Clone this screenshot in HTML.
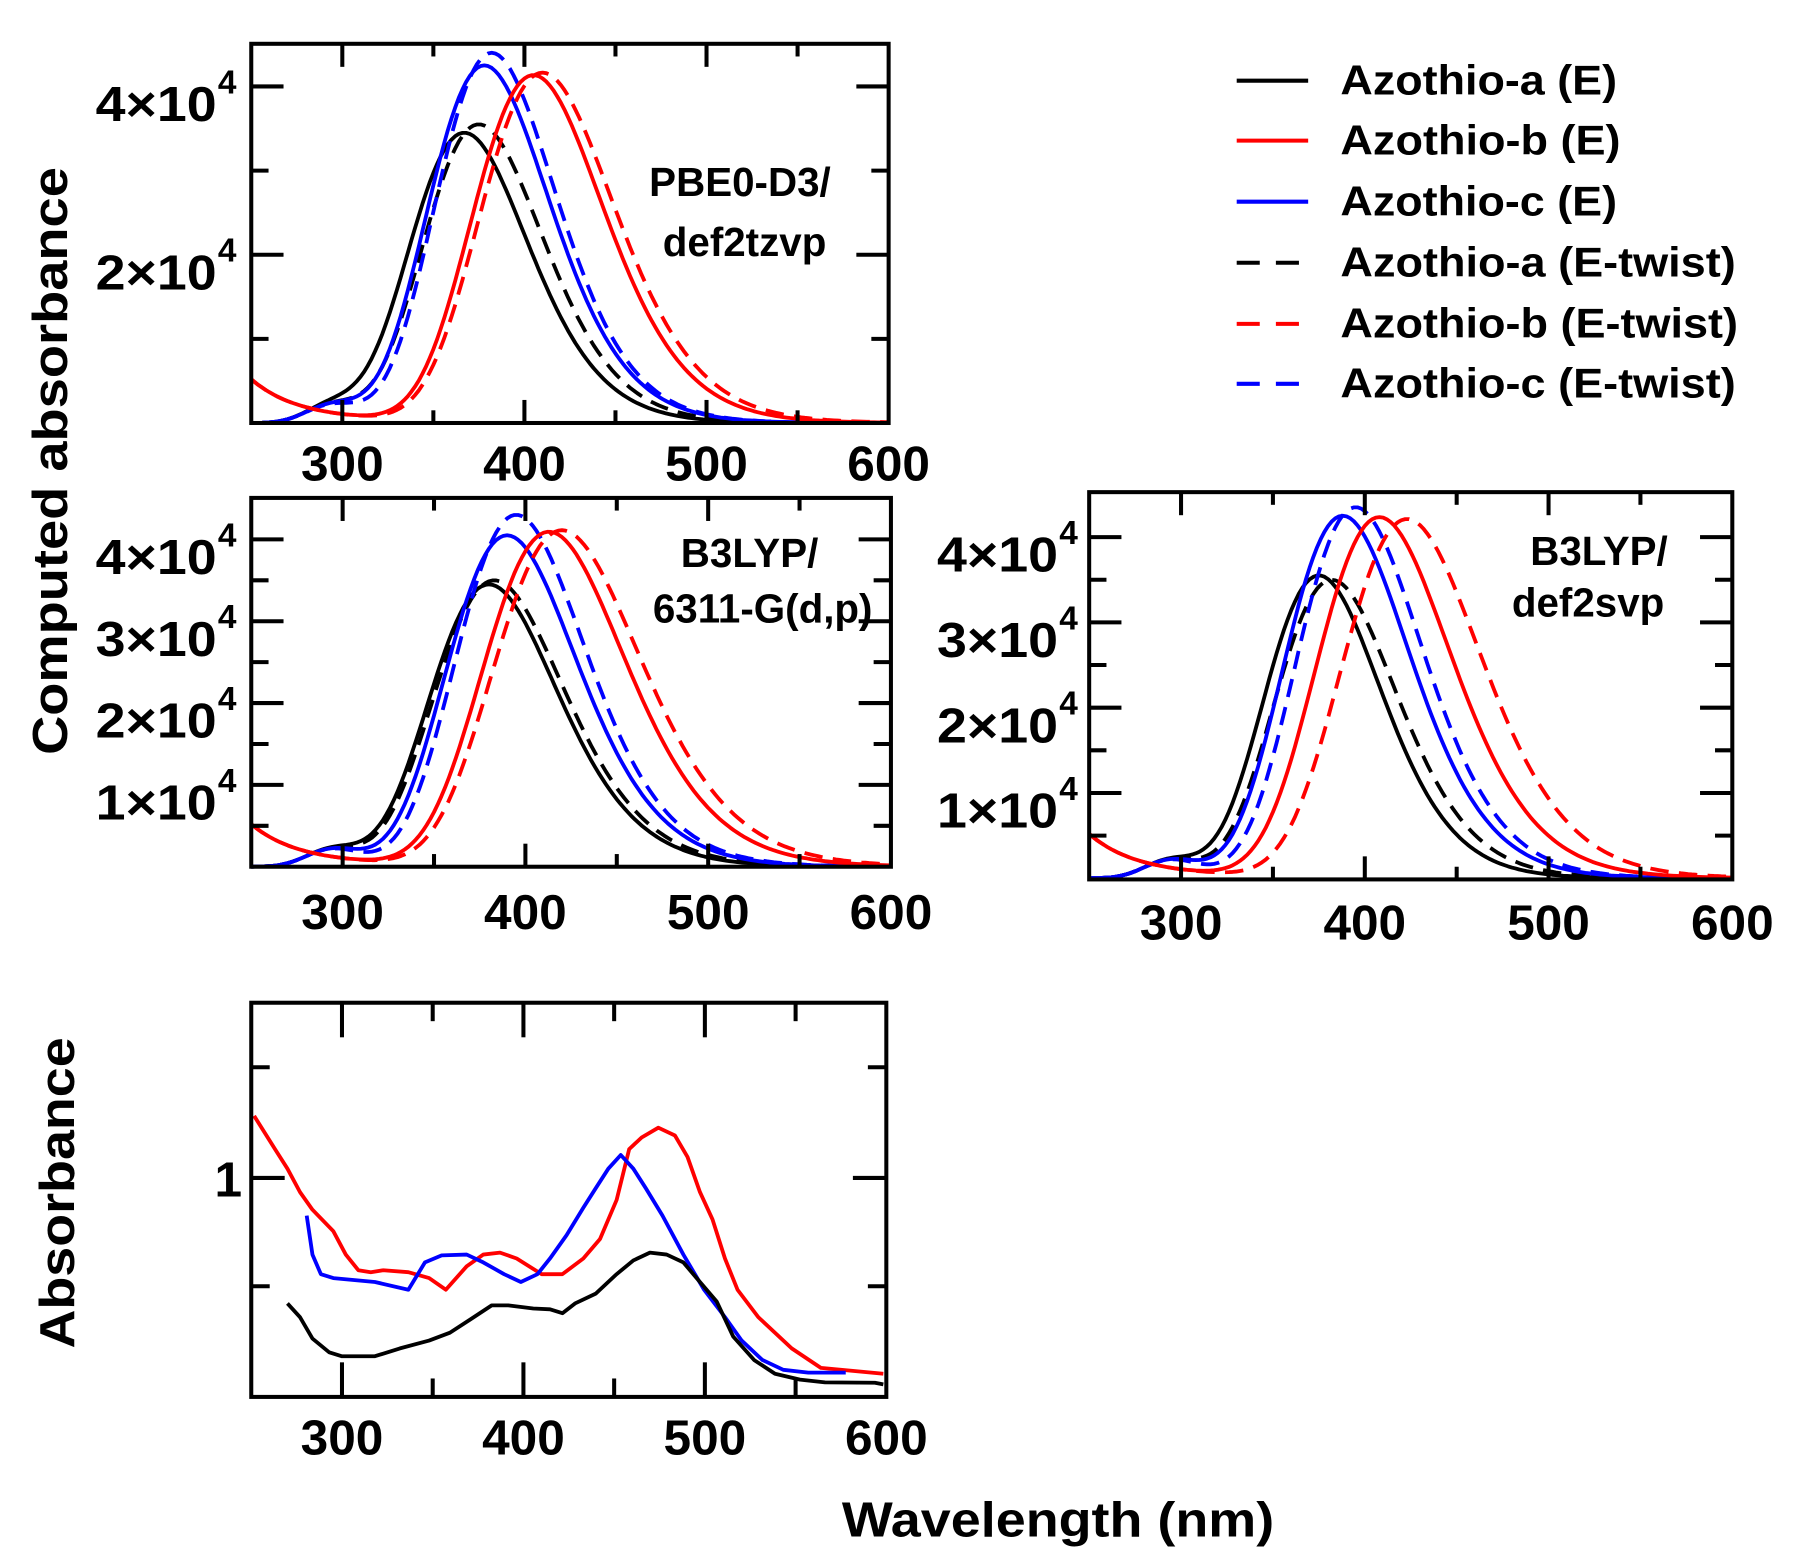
<!DOCTYPE html>
<html><head><meta charset="utf-8">
<style>
html,body{margin:0;padding:0;background:#fff;}
svg{display:block;}
text{font-family:"Liberation Sans",Arial,sans-serif;font-weight:bold;fill:#000;}
</style></head>
<body>
<svg id="s" width="1798" height="1560" viewBox="0 0 1560 1353.5" preserveAspectRatio="none" xmlns="http://www.w3.org/2000/svg">
<rect width="1560" height="1353.5" fill="#fff"/>
<g id="curves" fill="none" stroke-width="3.3" stroke-linejoin="round"></g>
<g id="frames" fill="none" stroke="#000" stroke-width="3.5"></g>
<g id="labels" font-size="43"></g>

<text x="0" y="0" font-size="43" transform="translate(58,400) rotate(-90)" text-anchor="middle" textLength="510" lengthAdjust="spacingAndGlyphs">Computed absorbance</text>
<text x="0" y="0" font-size="43" transform="translate(64,1035) rotate(-90)" text-anchor="middle" textLength="270" lengthAdjust="spacingAndGlyphs">Absorbance</text>
<text x="918" y="1333" font-size="43" text-anchor="middle" textLength="375" lengthAdjust="spacingAndGlyphs">Wavelength (nm)</text>

<g font-size="35">
<text x="642" y="170" text-anchor="middle">PBE0-D3/</text>
<text x="646" y="222" text-anchor="middle">def2tzvp</text>
<text x="710" y="492" text-anchor="end">B3LYP/</text>
<text x="757" y="540" text-anchor="end">6311-G(d,p)</text>
<text x="1447" y="490" text-anchor="end">B3LYP/</text>
<text x="1444" y="535" text-anchor="end">def2svp</text>
</g>

<g font-size="36">
<text x="1163" y="82" textLength="240" lengthAdjust="spacingAndGlyphs">Azothio-a (E)</text>
<text x="1163" y="134" textLength="243" lengthAdjust="spacingAndGlyphs">Azothio-b (E)</text>
<text x="1163" y="187" textLength="240" lengthAdjust="spacingAndGlyphs">Azothio-c (E)</text>
<text x="1163" y="240" textLength="343" lengthAdjust="spacingAndGlyphs">Azothio-a (E-twist)</text>
<text x="1163" y="293" textLength="345" lengthAdjust="spacingAndGlyphs">Azothio-b (E-twist)</text>
<text x="1163" y="345" textLength="343" lengthAdjust="spacingAndGlyphs">Azothio-c (E-twist)</text>
</g>
<g stroke-width="3.5">
<line x1="1073" y1="70" x2="1135" y2="70" stroke="#000"/>
<line x1="1073" y1="122" x2="1135" y2="122" stroke="#f00"/>
<line x1="1073" y1="175" x2="1135" y2="175" stroke="#00f"/>
<line x1="1073" y1="228" x2="1135" y2="228" stroke="#000" stroke-dasharray="20 14"/>
<line x1="1073" y1="281" x2="1135" y2="281" stroke="#f00" stroke-dasharray="20 14"/>
<line x1="1073" y1="333" x2="1135" y2="333" stroke="#00f" stroke-dasharray="20 14"/>
</g>
</svg>
<script>
(function(){
var NS="http://www.w3.org/2000/svg";
var C=document.getElementById('curves'),F=document.getElementById('frames'),L=document.getElementById('labels');
function el(p,tag,a,txt){var e=document.createElementNS(NS,tag);for(var k in a)e.setAttribute(k,a[k]);if(txt!=null)e.textContent=txt;p.appendChild(e);return e;}
function line(p,x1,y1,x2,y2,w){el(p,'line',{x1:x1,y1:y1,x2:x2,y2:y2,stroke:'#000','stroke-width':w||3});}
var P=[
 {x0:218,x1:771,top:38,bot:367,zero:367,u:73,yt:[2,4],minor:[1,3],lab:417},
 {x0:218,x1:773,top:432,bot:752,zero:752,u:71,yt:[1,2,3,4],minor:[0.5,1.5,2.5,3.5],lab:806},
 {x0:945,x1:1503,top:427,bot:763,zero:762,u:74,yt:[1,2,3,4],minor:[0.5,1.5,2.5,3.5],lab:815}
];
function X(p,nm){return p.x0+(nm-250)*(p.x1-p.x0)/350;}
function frame(p,majLen,minLen){
 el(F,'rect',{x:p.x0,y:p.top,width:p.x1-p.x0,height:p.bot-p.top});
 [300,400,500,350,450,550].forEach(function(nm,i){
  var len=i<3?majLen:minLen,x=X(p,nm);
  line(F,x,p.bot,x,p.bot-len,3.5);line(F,x,p.top,x,p.top+len,3.5);
 });
 [300,400,500,600].forEach(function(nm){el(L,'text',{x:X(p,nm),y:p.lab,'text-anchor':'middle'},String(nm));});
}
P.forEach(function(p,i){
 frame(p,20,11);
 p.yt.forEach(function(v){var y=p.zero-v*p.u;line(F,p.x0,y,p.x0+28,y,3.5);line(F,p.x1,y,p.x1-28,y,3.5);
   var xr=(i==2?918:188);
   el(L,'text',{x:xr,y:y+30,'text-anchor':'end',textLength:'105',lengthAdjust:'spacingAndGlyphs'},v+'\u00d710');
   el(L,'text',{x:xr+1,y:y+6,'font-size':'29'},'4');
 });
 p.minor.forEach(function(v){var y=p.zero-v*p.u;line(F,p.x0,y,p.x0+15,y,3.5);line(F,p.x1,y,p.x1-15,y,3.5);});
});
function spec(pk,h,sig,extra){return function(nm){var E=1240/nm,E0=1240/pk;var v=h*Math.exp(-Math.pow(E-E0,2)/(2*sig*sig));if(extra)v+=extra(nm);return v;};}
function shoulder(nm){var E=1240/nm;return 0.22*Math.exp(-Math.pow(E-4.2,2)/(2*0.22*0.22));}
function redtail(nm){return 0.42*Math.exp(-(nm-250)/24)+0.1*Math.exp(-(nm-250)/80);}
function draw(p,f,col,dash){
 var d='';for(var nm=250;nm<=600;nm+=2){var v=f(nm);var y=p.zero-v*p.u;if(y<p.top+2)y=p.top+2;d+=(nm==250?'M':'L')+X(p,nm).toFixed(1)+','+y.toFixed(1);}
 var a={d:d,stroke:col};if(dash)a['stroke-dasharray']='16 9';el(C,'path',a);
}
var sets=[
 [[367,3.45,0.3,'#000',0,shoulder],[375,3.55,0.29,'#000',1,shoulder],[378,4.25,0.29,'#00f',0,shoulder],[382,4.4,0.28,'#00f',1,shoulder],[405,4.12,0.27,'#f00',0,redtail],[410,4.15,0.27,'#f00',1,redtail]],
 [[380,3.45,0.3,'#000',0,shoulder],[383,3.5,0.3,'#000',1,shoulder],[390,4.05,0.29,'#00f',0,shoulder],[395,4.3,0.28,'#00f',1,shoulder],[413,4.08,0.28,'#f00',0,redtail],[420,4.1,0.28,'#f00',1,redtail]],
 [[375,3.55,0.28,'#000',0,shoulder],[382,3.5,0.28,'#000',1,shoulder],[388,4.25,0.28,'#00f',0,shoulder],[395,4.35,0.27,'#00f',1,shoulder],[408,4.22,0.27,'#f00',0,redtail],[423,4.2,0.26,'#f00',1,redtail]]
];
sets.forEach(function(s,i){s.forEach(function(c){draw(P[i],spec(c[0],c[1],c[2],c[5]),c[3],c[4]);});});
var p4={x0:218,x1:769,top:870,bot:1212};
el(F,'rect',{x:218,y:870,width:551,height:342});
[300,400,500,350,450,550].forEach(function(nm,i){var x=X(p4,nm),len=i<3?30:16;line(F,x,1212,x,1212-len,3.5);line(F,x,870,x,870+len,3.5);});
[[1022,29],[926,16],[1116,16]].forEach(function(t){line(F,218,t[0],218+t[1],t[0],3.5);line(F,769,t[0],769-t[1],t[0],3.5);});
el(L,'text',{x:210,y:1038,'text-anchor':'end'},'1');
[300,400,500,600].forEach(function(nm){el(L,'text',{x:X(p4,nm),y:1262,'text-anchor':'middle'},String(nm));});
function poly(pts,col){var d=pts.map(function(q,i){return (i?'L':'M')+(q[0]*0.723).toFixed(1)+','+(824.2+q[1]*0.3389).toFixed(1);}).join('');el(C,'path',{d:d,stroke:col});}
poly([[305,425],[330,510],[345,560],[360,620],[375,665],[400,720],[415,780],[430,820],[445,825],[460,820],[490,825],[515,840],[535,870],[560,810],[580,780],[600,775],[620,790],[650,830],[675,830],[700,790],[720,740],[740,640],[755,510],[770,480],[790,455],[810,475],[825,530],[840,620],[855,690],[870,790],[885,870],[910,940],[950,1020],[985,1070],[1025,1078],[1060,1085]],'#f00');
poly([[368,680],[375,780],[385,830],[400,840],[450,850],[490,870],[510,800],[530,782],[560,780],[580,800],[605,830],[625,850],[645,830],[660,790],[680,730],[700,660],[715,610],[730,560],[745,525],[760,560],[775,610],[795,680],[820,780],[845,870],[870,940],[890,1000],[915,1050],[940,1075],[970,1082],[1015,1082]],'#00f');
poly([[345,905],[360,940],[375,995],[395,1030],[410,1040],[450,1040],[480,1020],[515,1000],[540,980],[565,945],[590,910],[610,910],[640,918],[660,920],[675,930],[690,905],[715,880],[740,830],[760,795],[780,775],[800,780],[820,800],[840,850],[860,900],[880,990],[905,1050],[930,1085],[960,1100],[990,1107],[1050,1108],[1060,1112]],'#000');
})();
</script>
</body></html>
